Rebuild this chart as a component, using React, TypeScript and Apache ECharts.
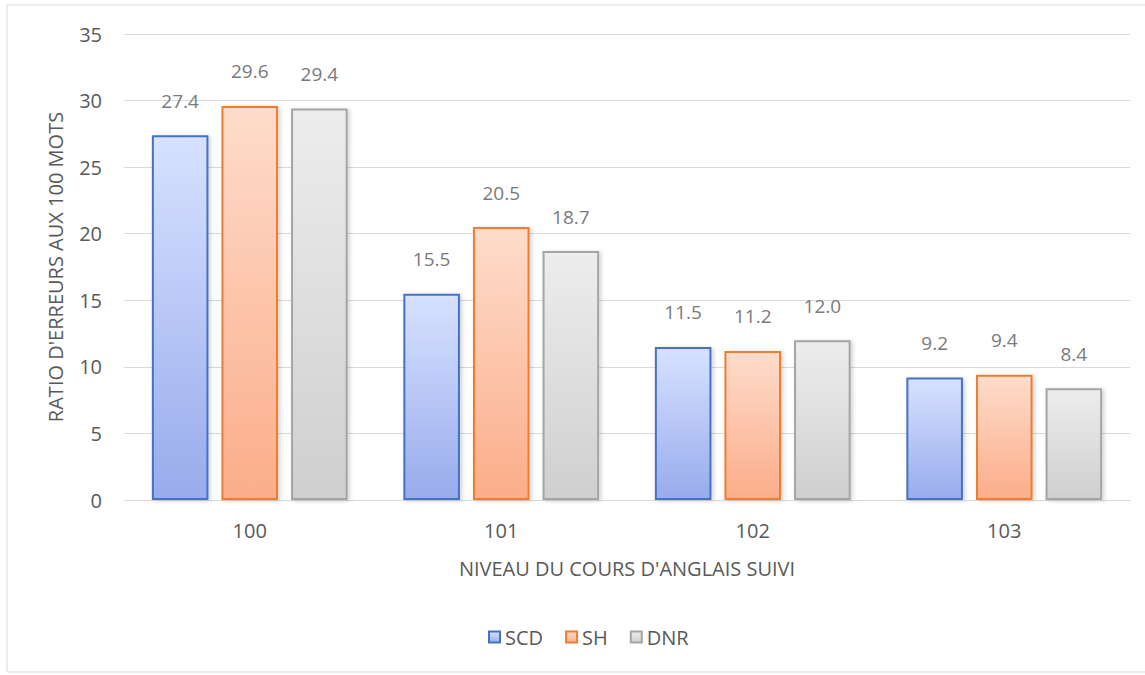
import React, { useEffect, useRef } from "react";
import * as echarts from "echarts";

const categories = ["100", "101", "102", "103"];
const scdValues = [27.4, 15.5, 11.5, 9.2];
const shValues = [29.6, 20.5, 11.2, 9.4];
const dnrValues = [29.4, 18.7, 12.0, 8.4];
const seriesNames = ["SCD", "SH", "DNR"];
const yTitle = "RATIO D'ERREURS AUX 100 MOTS";
const xTitle = "NIVEAU DU COURS D'ANGLAIS SUIVI";

const FONT = "'Open Sans', 'Liberation Sans', sans-serif";
const FS = 20;

function grad(top: string, bottom: string) {
  return new echarts.graphic.LinearGradient(0, 0, 0, 1, [
    { offset: 0, color: top },
    { offset: 1, color: bottom },
  ]);
}

export default function App() {
  const ref = useRef<HTMLDivElement>(null);
  useEffect(() => {
    if (!ref.current) return;
    const chart = echarts.init(ref.current, undefined, { renderer: "svg" });
    const styles = [
      { top: "#d7e2ff", bottom: "#98abec", border: "#4472c4" },
      { top: "#fedccb", bottom: "#fbad8a", border: "#ed7d31" },
      { top: "#ededed", bottom: "#cfcfcf", border: "#a5a5a5" },
    ];
    const datas = [scdValues, shValues, dnrValues];
    chart.setOption({
      animation: false,
      backgroundColor: "#ffffff",
      textStyle: { fontFamily: FONT },
      graphic: [
        {
          type: "rect",
          shape: { x: 7, y: 5, width: 1200, height: 667 },
          style: { fill: "none", stroke: "#d9d9d9", lineWidth: 1 },
          silent: true,
        },
      ],
      grid: { left: 124, right: 15, top: 34, bottom: 175 },
      legend: {
        data: seriesNames.map((n, i) => ({
          name: n,
          itemStyle: {
            color: grad(styles[i].top, styles[i].bottom),
            borderColor: styles[i].border,
            borderWidth: 2,
          },
        })),
        bottom: 23,
        left: 483,
        itemWidth: 11,
        itemHeight: 11,
        itemGap: 22,
        icon: "rect",
        textStyle: { color: "#595959", fontSize: FS, fontFamily: FONT },
      },
      xAxis: {
        type: "category",
        data: categories,
        name: xTitle,
        nameLocation: "middle",
        nameGap: 58,
        nameTextStyle: { color: "#595959", fontSize: FS, fontFamily: FONT },
        axisLine: { lineStyle: { color: "#d9d9d9", width: 1 } },
        axisTick: { show: false },
        axisLabel: { color: "#595959", fontSize: FS, margin: 20, fontFamily: FONT },
      },
      yAxis: {
        type: "value",
        min: 0,
        max: 35,
        interval: 5,
        name: yTitle,
        nameLocation: "middle",
        nameGap: 59,
        nameTextStyle: { color: "#595959", fontSize: FS, fontFamily: FONT },
        axisLine: { show: false },
        axisTick: { show: false },
        splitLine: { lineStyle: { color: "#d9d9d9", width: 1 } },
        axisLabel: { color: "#595959", fontSize: FS, margin: 22, fontFamily: FONT },
      },
      series: seriesNames.map((n, i) => ({
        name: n,
        type: "bar",
        data: datas[i],
        barWidth: "22.5%",
        barGap: "23%",
        itemStyle: {
          color: grad(styles[i].top, styles[i].bottom),
          borderColor: styles[i].border,
          borderWidth: 2,
          shadowBlur: 4,
          shadowColor: "rgba(0,0,0,0.18)",
          shadowOffsetX: 2,
          shadowOffsetY: 1,
        },
        label: {
          show: true,
          position: "top",
          distance: 25,
          color: "#7a7a7a",
          fontSize: 19,
          fontFamily: FONT,
          formatter: (p: any) => Number(p.value).toFixed(1),
        },
      })),
    });
    return () => chart.dispose();
  }, []);
  return (
    <div
      ref={ref}
      style={{ position: "fixed", left: 0, top: 0, width: 1145, height: 675 }}
    />
  );
}
